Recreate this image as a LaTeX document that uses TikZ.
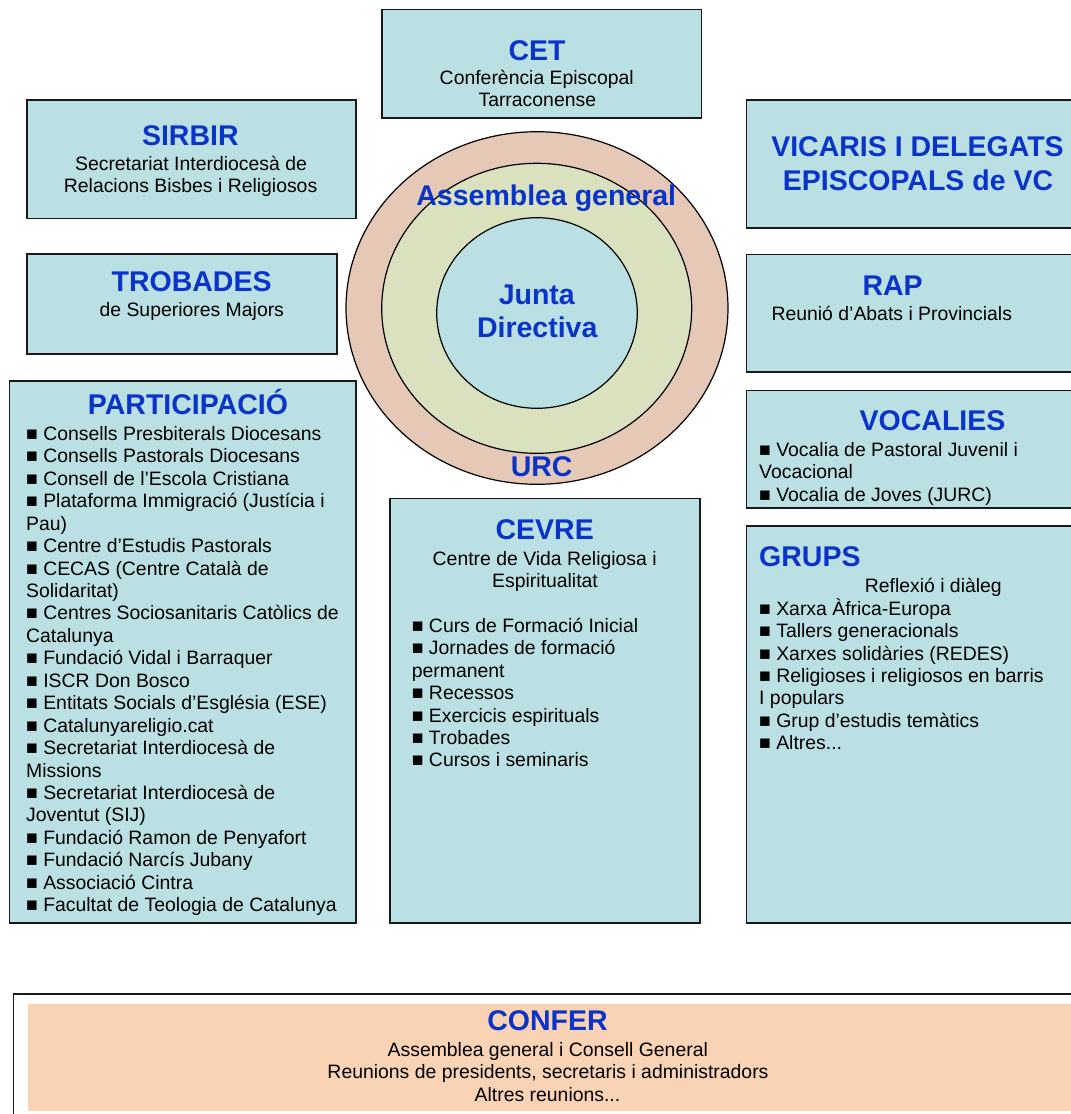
\documentclass[tikz,border=0pt]{standalone}
\usepackage{fontspec}
\setmainfont{Liberation Sans}
\definecolor{boxfill}{RGB}{187,224,227}
\definecolor{ringout}{RGB}{230,200,182}
\definecolor{ringmid}{RGB}{217,225,190}
\definecolor{titleblue}{RGB}{10,52,200}
\definecolor{conferfill}{RGB}{250,211,180}
\definecolor{edge}{RGB}{25,25,25}
\tikzset{
  panel/.style={draw=edge, line width=1.6pt, fill=boxfill, anchor=north west, inner sep=0pt, outer sep=0pt},
  ttl/.style={font=\fontsize{28.5}{33}\selectfont\bfseries, text=titleblue, inner sep=0pt, text height=20.4pt, text depth=0pt},
  txt/.style={font=\fontsize{19.4}{22.4}\selectfont, text=black, inner sep=0pt, text height=13.9pt, text depth=0pt},
  ring/.style={draw=black, line width=1.2pt}
}
\begin{document}
\begin{tikzpicture}[x=1pt,y=-1pt]
\useasboundingbox (0,0) rectangle (1071,1114);
\clip (0,0) rectangle (1071,1114);
\fill[white] (0,0) rectangle (1071,1114);

% rings
\coordinate (ctr) at (537,308);
\filldraw[ring, fill=ringout] (537,308) ellipse [x radius=191, y radius=176.3];
\filldraw[ring, fill=ringmid] (536.7,308.3) ellipse [x radius=155, y radius=145];
\filldraw[ring, fill=boxfill] (537,313) ellipse [x radius=100.3, y radius=95.3];
\node[ttl] (asm) at (546.3,195) {Assemblea general};
\node[ttl] (junta1) at (536.8,294) {Junta};
\node[ttl] (junta2) at (537.2,327.3) {Directiva};
\node[ttl] (urc) at (541.7,466.7) {URC};

% panels
\node[panel, minimum width=319.3pt, minimum height=108.7pt] (cet) at (382.2,9.3) {};
\node[panel, minimum width=328.5pt, minimum height=118.3pt] (sirbir) at (27.2,100) {};
\node[panel, minimum width=309.9pt, minimum height=100pt] (trobades) at (27.2,254) {};
\node[panel, minimum width=345pt, minimum height=127.7pt] (vicaris) at (746.4,100) {};
\node[panel, minimum width=345pt, minimum height=117.4pt] (rap) at (746.4,254.3) {};
\node[panel, minimum width=346.1pt, minimum height=542pt] (part) at (9.6,380.7) {};
\node[panel, minimum width=310pt, minimum height=424.1pt] (cevre) at (390,498.6) {};
\node[panel, minimum width=345pt, minimum height=117.5pt] (voc) at (746.4,390.4) {};
\node[panel, minimum width=345pt, minimum height=396.7pt] (grups) at (746.4,526) {};
\node[panel, fill=white, minimum width=1090pt, minimum height=150pt] (conferout) at (13.5,994) {};
\node[anchor=north west, fill=conferfill, inner sep=0pt, minimum width=1070pt, minimum height=107.4pt] (conferin) at (27.8,1003.3) {};

% CET
\node[ttl] (cett) at (537,50.2) {CET};
\node[txt] (cet1) at (536.8,77.7) {Conferència Episcopal};
\node[txt] (cet2) at (537.3,100) {Tarraconense};
% SIRBIR
\node[ttl] (sirbirt) at (190.3,135) {SIRBIR};
\node[txt] (sirbir1) at (191,163.3) {Secretariat Interdiocesà de};
\node[txt] (sirbir2) at (190.6,185.7) {Relacions Bisbes i Religiosos};
% TROBADES
\node[ttl] (trobt) at (191.6,281.7) {TROBADES};
\node[txt] (trob1) at (191.8,310) {de Superiores Majors};
% VICARIS
\node[ttl] (vic1) at (917.5,146.7) {VICARIS I DELEGATS};
\node[ttl] (vic2) at (918,180) {EPISCOPALS de VC};
% RAP
\node[ttl] (rapt) at (892.6,285) {RAP};
\node[txt] (rap1) at (891.8,313.3) {Reunió d’Abats i Provincials};
% PARTICIPACIO
\node[ttl] (partt) at (188,404.6) {PARTICIPACIÓ};
\foreach \t [count=\i] in {{■ Consells Presbiterals Diocesans},{■ Consells Pastorals Diocesans},{■ Consell de l’Escola Cristiana},{■ Plataforma Immigració (Justícia i},{Pau)},{■ Centre d’Estudis Pastorals},{■ CECAS (Centre Català de},{Solidaritat)},{■ Centres Sociosanitaris Catòlics de},{Catalunya},{■ Fundació Vidal i Barraquer},{■ ISCR Don Bosco},{■ Entitats Socials d’Església (ESE)},{■ Catalunyareligio.cat},{■ Secretariat Interdiocesà de},{Missions},{■ Secretariat Interdiocesà de},{Joventut (SIJ)},{■ Fundació Ramon de Penyafort},{■ Fundació Narcís Jubany},{■ Associació Cintra},{■ Facultat de Teologia de Catalunya}}
  \node[txt, anchor=west] (part\i) at (26,{433.6+22.43*(\i-1)}) {\t};
% CEVRE
\node[ttl] (cevret) at (544.7,529.6) {CEVRE};
\node[txt] (cevre1) at (544.7,558.2) {Centre de Vida Religiosa i};
\node[txt] (cevre2) at (545,580.7) {Espiritualitat};
\foreach \t [count=\i] in {{■ Curs de Formació Inicial},{■ Jornades de formació},{permanent},{■ Recessos},{■ Exercicis espirituals},{■ Trobades},{■ Cursos i seminaris}}
  \node[txt, anchor=west] (cev\i) at (411.7,{625.4+22.43*(\i-1)}) {\t};
% VOCALIES
\node[ttl] (voct) at (932.5,420) {VOCALIES};
\foreach \t [count=\i] in {{■ Vocalia de Pastoral Juvenil i},{Vocacional},{■ Vocalia de Joves (JURC)}}
  \node[txt, anchor=west] (voc\i) at (759,{449.3+22.43*(\i-1)}) {\t};
% GRUPS
\node[ttl, anchor=west] (grupst) at (759,556.4) {GRUPS};
\node[txt] (grups0) at (933.3,585.4) {Reflexió i diàleg};
\foreach \t [count=\i] in {{■ Xarxa Àfrica-Europa},{■ Tallers generacionals},{■ Xarxes solidàries (REDES)},{■ Religioses i religiosos en barris},{I populars},{■ Grup d’estudis temàtics}}
  \node[txt, anchor=west] (grp\i) at (759,{608.2+22.43*(\i-1)}) {\t};
\node[txt, anchor=west] (grp7) at (759,{608.2+22.43*6}) {■ Altres...};
% CONFER
\node[ttl] (confert) at (547.5,1020) {CONFER};
\node[txt] (confer1) at (547.8,1049.3) {Assemblea general i Consell General};
\node[txt] (confer2) at (548,1071.9) {Reunions de presidents, secretaris i administradors};
\node[txt] (confer3) at (547.5,1094.5) {Altres reunions...};
\end{tikzpicture}
\end{document}
